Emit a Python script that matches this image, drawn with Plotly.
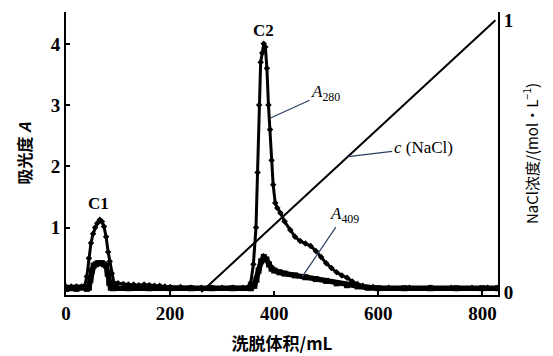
import plotly.graph_objects as go

# Elution volume (mL) and absorbance at 280 nm
a280_x = [0, 10, 20, 30, 36, 40, 44, 48, 52, 56, 60, 65, 69, 73, 77, 81, 84, 88, 92, 96,
          100, 110, 120, 130, 140, 150, 160, 170, 180, 190, 200, 220, 240, 260, 280, 300,
          320, 340, 350, 355, 360, 365, 368, 371, 374, 377, 380, 383, 386, 389, 392, 395,
          398, 402, 406, 412, 420, 431, 440, 450, 460, 470, 480, 490, 500, 510, 520, 530,
          540, 550, 560, 570, 590, 620, 660, 700, 740, 780, 810, 830]
a280_y = [0.04, 0.04, 0.04, 0.04, 0.05, 0.2, 0.5, 0.75, 0.9, 1.0, 1.07, 1.13, 1.1, 1.02,
          0.85, 0.6, 0.45, 0.25, 0.1, 0.08, 0.09, 0.08, 0.07, 0.07, 0.06, 0.07, 0.06, 0.05,
          0.05, 0.04, 0.03, 0.03, 0.02, 0.02, 0.02, 0.02, 0.02, 0.02, 0.03, 0.1, 0.4, 1.0,
          1.9, 3.0, 3.7, 3.85, 4.0, 3.95, 3.6, 3.0, 2.6, 2.1, 1.7, 1.4, 1.32, 1.24, 1.1,
          0.96, 0.85, 0.78, 0.74, 0.7, 0.62, 0.52, 0.42, 0.34, 0.27, 0.22, 0.18, 0.12, 0.08,
          0.05, 0.03, 0.02, 0.02, 0.02, 0.02, 0.02, 0.02, 0.02]

# Absorbance at 409 nm
a409_x = [0, 20, 40, 44, 47, 50, 53, 57, 61, 65, 69, 73, 77, 80, 83, 86, 90, 120, 160, 200,
          240, 280, 320, 355, 362, 366, 370, 375, 380, 385, 390, 395, 400, 410, 420, 440,
          460, 480, 500, 520, 540, 560, 580, 600, 650, 700, 750, 800, 830]
a409_y = [0.0, 0.0, 0.0, 0.02, 0.15, 0.3, 0.38, 0.4, 0.42, 0.42, 0.42, 0.4, 0.38, 0.25,
          0.1, 0.02, 0.01, 0.01, 0.01, 0.01, 0.01, 0.01, 0.01, 0.01, 0.05, 0.15, 0.3, 0.45,
          0.52, 0.48, 0.4, 0.33, 0.3, 0.27, 0.25, 0.22, 0.19, 0.16, 0.13, 0.09, 0.06, 0.04,
          0.02, 0.01, 0.01, 0.01, 0.01, 0.01, 0.01]

# NaCl gradient (mol/L)
nacl_x = [260, 825]
nacl_y = [0, 1]

x_ticks = [0, 200, 400, 600, 800]
y_ticks = [1, 2, 3, 4]
y2_ticks = [0, 1]

serif = "Liberation Serif"
cjk = "Noto Sans CJK SC"

fig = go.Figure()
fig.add_trace(go.Scatter(x=a280_x, y=a280_y, mode="lines+markers",
                         line=dict(color="black", width=3),
                         marker=dict(color="black", size=5, symbol="diamond"),
                         showlegend=False))
fig.add_trace(go.Scatter(x=a409_x, y=a409_y, mode="lines+markers",
                         line=dict(color="black", width=5.5),
                         marker=dict(color="black", size=6, symbol="square"),
                         showlegend=False))
fig.add_trace(go.Scatter(x=nacl_x, y=nacl_y, mode="lines", yaxis="y2",
                         line=dict(color="black", width=2), showlegend=False))

ann_font = dict(family=serif, size=17, color="black")
tick_font = dict(family=serif, size=19, color="black", weight="bold")
fig.update_layout(
    width=545, height=348,
    margin=dict(l=58, r=55, t=4, b=61, autoexpand=False),
    paper_bgcolor="white", plot_bgcolor="white",
    xaxis=dict(range=[0, 830], tickvals=x_ticks, ticks="inside", ticklen=4,
               tickwidth=1.5, tickcolor="black", showline=True, linecolor="black",
               linewidth=2, showgrid=False, zeroline=False, mirror=False,
               automargin=False, tickfont=tick_font,
               title=dict(text="洗脱体积/mL",
                          font=dict(family=cjk, size=17, color="black", weight="bold"))),
    yaxis=dict(range=[-0.1, 4.52], tickvals=y_ticks, ticks="inside", ticklen=4,
               tickwidth=1.5, tickcolor="black", showline=True, linecolor="black",
               linewidth=2, showgrid=False, zeroline=False, automargin=False,
               tickfont=tick_font,
               title=dict(text="吸光度 <i>A</i>",
                          font=dict(family=cjk, size=16, color="black", weight="bold"))),
    yaxis2=dict(range=[-0.011, 1.03], tickvals=y2_ticks, ticktext=["0", "1"],
                overlaying="y", side="right", anchor="x",
                ticks="", showline=True, linecolor="black", linewidth=2,
                showgrid=False, zeroline=False, automargin=False,
                ticklabeloverflow="allow",
                tickfont=tick_font,
                title=dict(text="NaCl浓度/(mol·L<sup>−1</sup>)",
                           font=dict(family=cjk, size=15, color="black"))),
    annotations=[
        dict(x=63, y=1.4, xref="x", yref="y", text="C1", showarrow=False,
             font=dict(ann_font, weight="bold")),
        dict(x=380, y=4.22, xref="x", yref="y", text="C2", showarrow=False,
             font=dict(ann_font, weight="bold")),
        dict(x=393, y=2.79, xref="x", yref="y", text="<i>A</i><sub>280</sub>",
             showarrow=True, arrowhead=0, arrowwidth=1.2, ax=55, ay=-25, font=ann_font),
        dict(x=542, y=0.498, xref="x", yref="y2", text="<i>c</i> (NaCl)",
             showarrow=True, arrowhead=0, arrowwidth=1.2, ax=75, ay=-9, font=ann_font),
        dict(x=454, y=0.2, xref="x", yref="y", text="<i>A</i><sub>409</sub>",
             showarrow=True, arrowhead=0, arrowwidth=1.2, ax=42, ay=-62, font=ann_font),
    ],
)

fig.write_html("out.html")
